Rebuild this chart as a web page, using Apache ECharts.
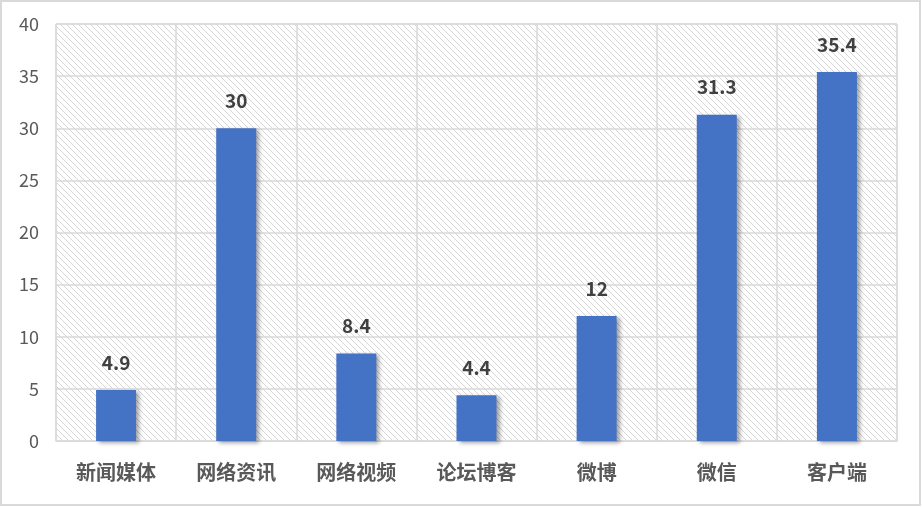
<!DOCTYPE html>
<html><head><meta charset="utf-8">
<script src="https://cdn.jsdelivr.net/npm/echarts@6/dist/echarts.min.js"></script>
<style>html,body{margin:0;padding:0;background:#fff}#c{width:922px;height:507px}</style>
</head><body><div id="c"></div>
<script>
const categories = ['新闻媒体','网络资讯','网络视频','论坛博客','微博','微信','客户端'];
const values = [4.9, 30, 8.4, 4.4, 12, 31.3, 35.4];
const yTicks = [0,5,10,15,20,25,30,35,40];

function hatch(){
  const s = 6, cv = document.createElement('canvas');
  cv.width = s; cv.height = s;
  const g = cv.getContext('2d');
  g.fillStyle = '#ffffff'; g.fillRect(0,0,s,s);
  g.strokeStyle = '#d6d6d6'; g.lineWidth = 1;
  g.beginPath();
  g.moveTo(-1,-1); g.lineTo(s+1,s+1);
  g.moveTo(-1,s-1); g.lineTo(1,s+1);
  g.moveTo(s-1,-1); g.lineTo(s+1,1);
  g.stroke();
  return cv;
}

const chart = echarts.init(document.getElementById('c'));
const font = '"Noto Sans CJK SC","Microsoft YaHei",sans-serif';
chart.setOption({
  animation:false,
  graphic:[{type:'rect',shape:{x:1,y:1,width:919,height:504},style:{fill:'none',stroke:'#d9d9d9',lineWidth:2},z:-10}],
  grid:{left:56,right:25,top:24,bottom:66,show:true,backgroundColor:{image:hatch(),repeat:'repeat'},borderColor:'#d9d9d9',borderWidth:1},
  xAxis:{type:'category',data:categories,
    axisLine:{lineStyle:{color:'#d9d9d9',width:1}},axisTick:{show:false},
    splitLine:{show:true,lineStyle:{color:'#d9d9d9',width:1.5}},
    axisLabel:{color:'#595959',fontSize:20,fontWeight:'bold',fontFamily:font,margin:21}},
  yAxis:{type:'value',min:yTicks[0],max:yTicks[yTicks.length-1],interval:5,
    axisLine:{show:false},axisTick:{show:false},
    splitLine:{lineStyle:{color:'#d9d9d9',width:1.5}},
    axisLabel:{color:'#595959',fontSize:18,fontFamily:font,margin:17}},
  series:[{type:'bar',data:values,barWidth:40,
    itemStyle:{color:'#4472c4',shadowColor:'rgba(0,0,0,0.35)',shadowBlur:4,shadowOffsetX:3,shadowOffsetY:2},
    label:{show:true,position:'top',distance:18,color:'#404040',fontSize:19,fontWeight:'bold',fontFamily:font}}]
});
</script></body></html>
